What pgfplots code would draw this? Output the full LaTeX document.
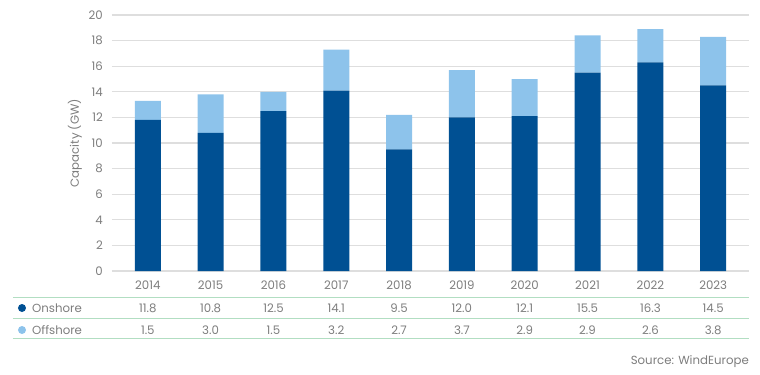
\documentclass[border=0pt]{standalone}
\usepackage{fontspec}
\setmainfont{Poppins}
\usepackage{pgfplots}
\pgfplotsset{compat=1.18}
\definecolor{onshore}{RGB}{0,80,147}
\definecolor{offshore}{RGB}{141,195,235}
\definecolor{txt}{RGB}{125,125,125}
\definecolor{gridc}{RGB}{222,222,222}
\definecolor{tline}{RGB}{178,222,194}
\begin{document}
\begin{tikzpicture}
\useasboundingbox (-112bp,-104bp) rectangle (648bp,271bp);
\begin{axis}[
  at={(0,0)}, anchor=south west,
  scale only axis, width=637bp, height=256bp,
  ybar stacked, bar width=26bp,
  ymin=0, ymax=20, ytick={0,2,...,20},
  xmin=-0.57, xmax=9.57, xtick={0,...,9},
  xticklabels={{2014\\11.8\\1.5},{2015\\10.8\\3.0},{2016\\12.5\\1.5},{2017\\14.1\\3.2},{2018\\9.5\\2.7},{2019\\12.0\\3.7},{2020\\12.1\\2.9},{2021\\15.5\\2.9},{2022\\16.3\\2.6},{2023\\14.5\\3.8}},
  /pgf/number format/assume math mode=true,
  major tick length=0pt,
  axis line style={draw=none},
  ymajorgrids, grid style={gridc, line width=1.3bp},
  yticklabel style={font=\fontsize{11.8}{14}\selectfont, text=txt, inner sep=0pt, anchor=east, xshift=-9bp},
  xticklabel style={font=\fontsize{11.8}{22.5}\selectfont, text=txt, align=center, inner sep=0pt, anchor=north, yshift=-10bp},
  ylabel={Capacity (GW)},
  every axis y label/.style={at={(rel axis cs:0,0.5)}, xshift=-37bp, rotate=90, anchor=center, font=\fontsize{11.8}{14}\selectfont, text=txt},
  clip=false,
]
\addplot[fill=onshore, draw=none] coordinates {(0,11.8) (1,10.8) (2,12.5) (3,14.1) (4,9.5) (5,12.0) (6,12.1) (7,15.5) (8,16.3) (9,14.5)};
\addplot[fill=offshore, draw=none] coordinates {(0,1.5) (1,3.0) (2,1.5) (3,3.2) (4,2.7) (5,3.7) (6,2.9) (7,2.9) (8,2.6) (9,3.8)};
\draw[tline, line width=1bp] ([xshift=-99bp,yshift=-26bp]rel axis cs:0,0) -- ([yshift=-26bp]rel axis cs:1,0);
\draw[tline, line width=1bp] ([xshift=-99bp,yshift=-47bp]rel axis cs:0,0) -- ([yshift=-47bp]rel axis cs:1,0);
\draw[tline, line width=1bp] ([xshift=-99bp,yshift=-67bp]rel axis cs:0,0) -- ([yshift=-67bp]rel axis cs:1,0);
\fill[onshore] ([xshift=-90bp,yshift=-37bp]rel axis cs:0,0) circle (4bp);
\fill[offshore] ([xshift=-90bp,yshift=-59bp]rel axis cs:0,0) circle (4bp);
\node[anchor=west, inner sep=0pt, text=txt, font=\fontsize{11.8}{14}\selectfont] at ([xshift=-80bp,yshift=-37bp]rel axis cs:0,0) {Onshore};
\node[anchor=west, inner sep=0pt, text=txt, font=\fontsize{11.8}{14}\selectfont] at ([xshift=-80bp,yshift=-59bp]rel axis cs:0,0) {Offshore};
\node[anchor=east, inner sep=0pt, text=txt, font=\fontsize{11.8}{14}\selectfont] at ([yshift=-91bp]rel axis cs:1,0) {Source: WindEurope};
\end{axis}
\end{tikzpicture}
\end{document}
